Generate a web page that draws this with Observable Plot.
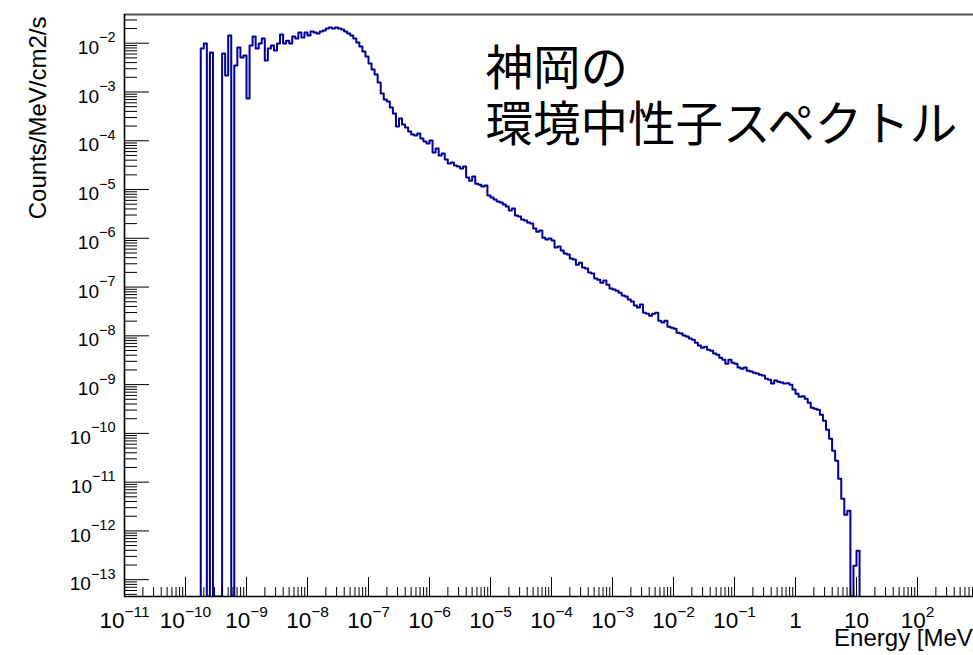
<!DOCTYPE html>
<html>
<head>
<meta charset="utf-8">
<script src="https://cdn.jsdelivr.net/npm/d3@7"></script>
<script src="https://cdn.jsdelivr.net/npm/@observablehq/plot@0.6"></script>
<style>
  html, body { margin: 0; padding: 0; background: #fff; overflow: hidden; }
  #chart { width: 973px; height: 655px; overflow: hidden; }
  #chart svg { max-width: none !important; display: block; }
</style>
</head>
<body>
<div id="chart"></div>
<script>
// Histogram binning: 20 log-uniform bins per decade; first filled bin starts at 10^-9.75 MeV
const firstBinLog10 = -9.75;
const binWidthLog10 = 0.05;

// Counts/MeV/cm2/s per bin (0 = empty bin)
const fluxThermal = [
  7.78e-3, 9.86e-3, 0, 6.44e-3, 0, 0, 0, 6.15e-3, 2.17e-3, 1.44e-2,
  0, 3.48e-3, 8.17e-3, 5.09e-3, 5.6e-3, 7.35e-4, 8.97e-3, 1.37e-2, 7.78e-3, 9.86e-3,
  1.25e-2, 4.42e-3, 7.78e-3, 8.97e-3, 7.08e-3, 9.86e-3, 1.51e-2, 9.86e-3, 1.13e-2, 9.86e-3,
  1.37e-2, 1.25e-2, 1.66e-2, 1.31e-2, 1.66e-2, 1.44e-2, 1.74e-2, 1.66e-2, 1.58e-2, 1.74e-2,
  1.82e-2, 2.00e-2, 2.10e-2, 2.00e-2, 2.10e-2, 2.00e-2, 1.91e-2, 1.74e-2, 1.58e-2, 1.44e-2,
  1.25e-2, 1.03e-2, 8.55e-3, 6.76e-3, 5.33e-3
];
const fluxEpithermal = [
  3.84e-3, 2.89e-3, 2.28e-3, 1.56e-3, 9.29e-4, 7.0e-4, 6.37e-4, 4.80e-4, 3.61e-4, 1.96e-4,
  2.85e-4, 2.15e-4, 1.87e-4, 1.55e-4, 1.34e-4, 1.28e-4, 1.41e-4, 1.11e-4, 9.63e-5, 8.77e-5,
  1.01e-4, 5.73e-5, 6.92e-5, 4.97e-5, 5.46e-5, 4.11e-5, 3.40e-5, 3.57e-5, 3.10e-5, 2.96e-5,
  2.69e-5, 2.96e-5, 1.76e-5, 1.52e-5, 1.84e-5, 1.32e-5, 1.26e-5, 1.15e-5, 1.21e-5, 7.52e-6,
  6.84e-6, 6.22e-6, 5.66e-6, 5.40e-6, 4.91e-6, 4.47e-6, 3.70e-6, 4.06e-6, 2.92e-6, 2.79e-6,
  2.42e-6, 2.31e-6, 2.10e-6, 2.00e-6, 1.58e-6, 1.37e-6, 1.44e-6, 1.03e-6, 9.40e-7, 9.86e-7,
  8.98e-7, 6.44e-7, 6.76e-7, 5.60e-7, 4.85e-7, 4.63e-7, 3.84e-7, 3.66e-7, 2.88e-7, 3.17e-7,
  2.51e-7, 2.39e-7, 1.98e-7, 1.89e-7, 1.49e-7, 1.42e-7, 1.23e-7, 1.36e-7, 1.12e-7, 9.29e-8,
  8.87e-8, 8.45e-8, 7.69e-8, 6.68e-8, 6.37e-8, 5.53e-8, 5.04e-8, 4.17e-8, 3.79e-8, 4.37e-8,
  2.99e-8, 2.85e-8, 2.59e-8, 2.85e-8, 2.99e-8, 2.05e-8, 1.87e-8, 2.05e-8, 1.54e-8, 1.47e-8,
  1.40e-8, 1.16e-8, 1.11e-8, 1.01e-8, 9.64e-9, 8.77e-9, 8.36e-9, 7.24e-9, 6.30e-9, 5.73e-9,
  6.0e-9, 5.21e-9, 4.97e-9, 4.32e-9, 4.11e-9, 3.57e-9, 3.25e-9, 2.69e-9, 3.25e-9, 2.82e-9
];
const fluxFast = [
  2.69e-9, 2.23e-9, 2.12e-9, 2.23e-9, 1.93e-9, 1.85e-9, 1.76e-9, 1.68e-9, 1.60e-9, 1.53e-9,
  1.32e-9, 1.26e-9, 1.05e-9, 1.21e-9, 1.15e-9, 1.10e-9, 1.05e-9, 1.07e-9, 9.98e-10, 7.89e-10,
  6.53e-10, 5.66e-10, 5.8e-10, 5.15e-10, 4.27e-10, 3.37e-10, 3.21e-10, 3.06e-10, 2.42e-10, 1.82e-10,
  1.19e-10, 7.78e-11, 4.42e-11, 2.75e-11, 1.17e-11, 4.57e-12, 2.15e-12, 2.59e-12, 0, 1.93e-13,
  3.92e-13
];

// Axis ranges and labels
const xDomain = [1e-11, 1e3];
const yDomain = [4.52e-14, 3.88e-2];
const xDecades = [-11, -10, -9, -8, -7, -6, -5, -4, -3, -2, -1, 0, 1, 2, 3];
const xTickLabels = ["10^−11", "10^−10", "10^−9", "10^−8", "10^−7", "10^−6", "10^−5", "10^−4",
                     "10^−3", "10^−2", "10^−1", "1", "10", "10^2"];
const yDecades = [-13, -12, -11, -10, -9, -8, -7, -6, -5, -4, -3, -2];
const yTickLabels = ["10^−13", "10^−12", "10^−11", "10^−10", "10^−9", "10^−8", "10^−7",
                     "10^−6", "10^−5", "10^−4", "10^−3", "10^−2"];
const xTitle = "Energy [MeV]";
const yTitle = "Counts/MeV/cm2/s";
const titleLines = ["神岡の", "環境中性子スペクトル"];

// Layout
const W = 985, H = 655;
const mL = 124, mR = 7, mT = 14, mB = 59;
const frameW = W - mL - mR, frameH = H - mT - mB;

// Histogram outline as a step path; empty bins fall to the bottom of the frame
const counts = [...fluxThermal, ...fluxEpithermal, ...fluxFast];
const floor = yDomain[0];
const steps = [];
counts.forEach((c, i) => {
  const lo = 10 ** (firstBinLog10 + i * binWidthLog10);
  if (i === 0) steps.push({E: lo, v: floor});
  steps.push({E: lo, v: c > 0 ? c : floor});
});
const hiEdge = 10 ** (firstBinLog10 + counts.length * binWidthLog10);
steps.push({E: hiEdge, v: counts[counts.length - 1] || floor});
steps.push({E: hiEdge, v: floor});

// Tick positions
const xMajor = xDecades.map(e => 10 ** e);
const yMajor = yDecades.map(e => 10 ** e);
const inside = (v, [a, b]) => v >= a && v <= b;
const xMinor = [], yMinor = [];
for (let e = -11; e < 3; e++) for (let m = 2; m <= 9; m++) xMinor.push(m * 10 ** e);
for (let e = -14; e < -1; e++) for (let m = 2; m <= 9; m++) {
  const v = m * 10 ** e;
  if (inside(v, yDomain)) yMinor.push(v);
}
const yMajorIn = yMajor.filter(v => inside(v, yDomain));

const labelFont = "'Liberation Sans', Arial, Helvetica, sans-serif";
const cjkFont = "'Noto Sans CJK JP', sans-serif";
const navy = "#000099";

const chart = Plot.plot({
  width: W, height: H,
  marginLeft: mL, marginRight: mR, marginTop: mT, marginBottom: mB,
  x: {type: "log", domain: xDomain, axis: null},
  y: {type: "log", domain: yDomain, axis: null},
  style: {fontFamily: labelFont, background: "#fff", color: "#000", maxWidth: "none"},
  marks: [
    Plot.line(steps, {x: "E", y: "v", curve: "step-after", stroke: navy, strokeWidth: 2, clip: true}),

    // frame and axis lines
    Plot.ruleY([yDomain[1]], {stroke: "#555", strokeWidth: 2}),
    Plot.ruleX([xDomain[1]], {stroke: "#555", strokeWidth: 2}),
    Plot.ruleX([xDomain[0]], {stroke: "#000", strokeWidth: 1.6}),
    Plot.ruleY([yDomain[0]], {stroke: "#000", strokeWidth: 1.6}),

    // inward ticks
    Plot.tickY(yMajorIn, {y: d => d, insetRight: frameW - 25, stroke: "#000", strokeWidth: 1}),
    Plot.tickY(yMinor, {y: d => d, insetRight: frameW - 13, stroke: "#000", strokeWidth: 1}),
    Plot.tickX(xMajor, {x: d => d, insetTop: frameH - 19, stroke: "#000", strokeWidth: 1}),
    Plot.tickX(xMinor, {x: d => d, insetTop: frameH - 9, stroke: "#000", strokeWidth: 1}),

    // tick labels
    Plot.text(yMajor, {y: d => d, text: (d, i) => yTickLabels[i], frameAnchor: "left",
      textAnchor: "end", lineAnchor: "bottom", dx: -9, dy: 10.6, fontSize: 19}),
    Plot.text(xMajor.slice(0, xTickLabels.length), {x: d => d, text: (d, i) => xTickLabels[i],
      frameAnchor: "bottom", textAnchor: "middle", lineAnchor: "bottom", dy: 31.5, fontSize: 22.5}),

    // axis titles
    Plot.text([yTitle], {text: d => d, frameAnchor: "top-left", rotate: -90, textAnchor: "end",
      lineAnchor: "bottom", dx: -79, dy: 2, fontSize: 24}),
    Plot.text([xTitle], {text: d => d, frameAnchor: "bottom-right", textAnchor: "end",
      lineAnchor: "bottom", dx: 1, dy: 49, fontSize: 24}),

    // annotation
    Plot.text([titleLines[0]], {text: d => d, frameAnchor: "top-left", textAnchor: "start",
      lineAnchor: "bottom", dx: 361, dy: 70, fontSize: 47.5, fontFamily: cjkFont}),
    Plot.text([titleLines[1]], {text: d => d, frameAnchor: "top-left", textAnchor: "start",
      lineAnchor: "bottom", dx: 361, dy: 126, fontSize: 47.5, fontFamily: cjkFont})
  ]
});
chart.style.maxWidth = "none";

// Turn "10^e" labels into a base with a raised exponent
chart.querySelectorAll("text").forEach(t => {
  const s = t.textContent;
  const k = s.indexOf("^");
  if (k < 0) return;
  const fs = parseFloat(t.getAttribute("font-size")) || parseFloat(t.parentNode.getAttribute("font-size")) || 18;
  const big = fs > 20;
  t.textContent = s.slice(0, k);
  const sup = document.createElementNS("http://www.w3.org/2000/svg", "tspan");
  sup.setAttribute("dy", big ? -11.3 : -11.6);
  sup.setAttribute("font-size", big ? 15.5 : 14.5);
  sup.textContent = s.slice(k + 1);
  t.appendChild(sup);
});

document.getElementById("chart").appendChild(chart);
</script>
</body>
</html>
